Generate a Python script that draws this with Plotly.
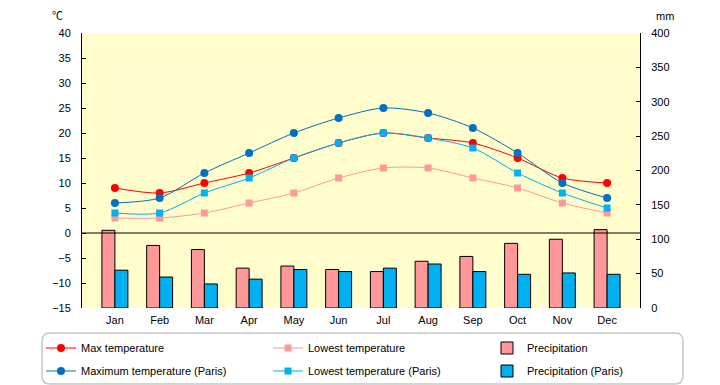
import plotly.graph_objects as go

months = ["Jan", "Feb", "Mar", "Apr", "May", "Jun", "Jul", "Aug", "Sep", "Oct", "Nov", "Dec"]
max_temp = [9, 8, 10, 12, 15, 18, 20, 19, 18, 15, 11, 10]
low_temp = [3, 3, 4, 6, 8, 11, 13, 13, 11, 9, 6, 4]
paris_max = [6, 7, 12, 16, 20, 23, 25, 24, 21, 16, 10, 7]
paris_low = [4, 4, 8, 11, 15, 18, 20, 19, 17, 12, 8, 5]
precip = [113, 91, 85, 58, 61, 56, 53, 68, 75, 94, 100, 114]
paris_precip = [55, 45, 35, 42, 56, 53, 58, 64, 53, 49, 51, 49]

FONT = "Liberation Sans, Noto Sans CJK JP, sans-serif"
W, H = 720, 385

fig = go.Figure()

fig.add_trace(go.Scatter(x=months, y=max_temp, name="Max temperature", mode="lines+markers",
                         line=dict(color="#FF0000", width=1, shape="spline", smoothing=0.8),
                         marker=dict(symbol="circle", size=8, color="#FF0000"),
                         legend="legend", showlegend=True))
fig.add_trace(go.Scatter(x=months, y=low_temp, name="Lowest temperature", mode="lines+markers",
                         line=dict(color="#FF9999", width=1, shape="spline", smoothing=0.8),
                         marker=dict(symbol="square", size=7, color="#FF9999"), legend="legend2"))
fig.add_trace(go.Bar(x=months, y=precip, name="Precipitation", yaxis="y2",
                     marker=dict(color="#FF9999", line=dict(color="black", width=1)), legend="legend3"))
fig.add_trace(go.Scatter(x=months, y=paris_max, name="Maximum temperature (Paris)", mode="lines+markers",
                         line=dict(color="#0070C0", width=1, shape="spline", smoothing=0.8),
                         marker=dict(symbol="circle", size=8, color="#0070C0"), legend="legend4"))
fig.add_trace(go.Scatter(x=months, y=paris_low, name="Lowest temperature (Paris)", mode="lines+markers",
                         line=dict(color="#00B0F0", width=1, shape="spline", smoothing=0.8),
                         marker=dict(symbol="square", size=7, color="#00B0F0"), legend="legend5"))
fig.add_trace(go.Bar(x=months, y=paris_precip, name="Precipitation (Paris)", yaxis="y2",
                     marker=dict(color="#00B0F0", line=dict(color="black", width=1)), legend="legend6"))

# legend frame (rounded)
x0, x1 = (42 - 82) / 558, (683 - 82) / 558
y0, y1 = (308 - 384) / 275, (308 - 333) / 275
rx, ry = 8 / 558, 8 / 275
path = (f"M {x0+rx},{y1} L {x1-rx},{y1} Q {x1},{y1} {x1},{y1-ry} L {x1},{y0+ry} "
        f"Q {x1},{y0} {x1-rx},{y0} L {x0+rx},{y0} Q {x0},{y0} {x0},{y0+ry} "
        f"L {x0},{y1-ry} Q {x0},{y1} {x0+rx},{y1} Z")


def leg(px, py):
    return dict(orientation="v", xref="container", yref="container", x=px / W, xanchor="left",
                y=1 - py / H, yanchor="middle", bgcolor="rgba(0,0,0,0)", borderwidth=0,
                font=dict(size=11), itemclick=False, itemdoubleclick=False)


cols = [41, 268, 487]
rows = [348, 371]

fig.update_layout(
    width=W, height=H,
    showlegend=True,
    margin=dict(l=82, r=80, t=33, b=77, autoexpand=False),
    paper_bgcolor="white",
    plot_bgcolor="#FFFDCC",
    font=dict(family=FONT, size=11, color="black"),
    barmode="group", bargap=0.42, bargroupgap=0,
    xaxis=dict(showline=False, ticks="", showgrid=False, tickfont=dict(size=11),
               ticklabelstandoff=4),
    yaxis=dict(range=[-15, 40], dtick=5, showgrid=False, zeroline=False, showline=True,
               linecolor="black", linewidth=1, ticks="inside", ticklen=4, tickcolor="black",
               ticklabelstandoff=8),
    yaxis2=dict(range=[0, 400], dtick=50, overlaying="y", side="right", showgrid=False,
                zeroline=False, showline=True, linecolor="black", linewidth=1, ticks="inside",
                ticklen=4, tickcolor="black", ticklabelstandoff=8),
    legend=leg(cols[0], rows[0]),
    legend2=leg(cols[1], rows[0]),
    legend3=leg(cols[2], rows[0]),
    legend4=leg(cols[0], rows[1]),
    legend5=leg(cols[1], rows[1]),
    legend6=leg(cols[2], rows[1]),
    shapes=[
        dict(type="line", xref="paper", yref="y", x0=0, x1=1, y0=0, y1=0,
             line=dict(color="black", width=1), layer="above"),
        dict(type="path", xref="paper", yref="paper", path=path,
             line=dict(color="#C8C8C8", width=1.5), fillcolor="rgba(0,0,0,0)", layer="below"),
    ],
    annotations=[
        dict(text="℃", xref="paper", yref="paper", x=(57 - 82) / 558, y=(308 - 16) / 275,
             xanchor="center", yanchor="middle", showarrow=False, font=dict(size=11)),
        dict(text="mm", xref="paper", yref="paper", x=(665 - 82) / 558, y=(308 - 16) / 275,
             xanchor="center", yanchor="middle", showarrow=False, font=dict(size=11)),
    ],
)

fig.write_html("out.html", config={"displayModeBar": False},
               post_script="document.body.style.margin='0';")
